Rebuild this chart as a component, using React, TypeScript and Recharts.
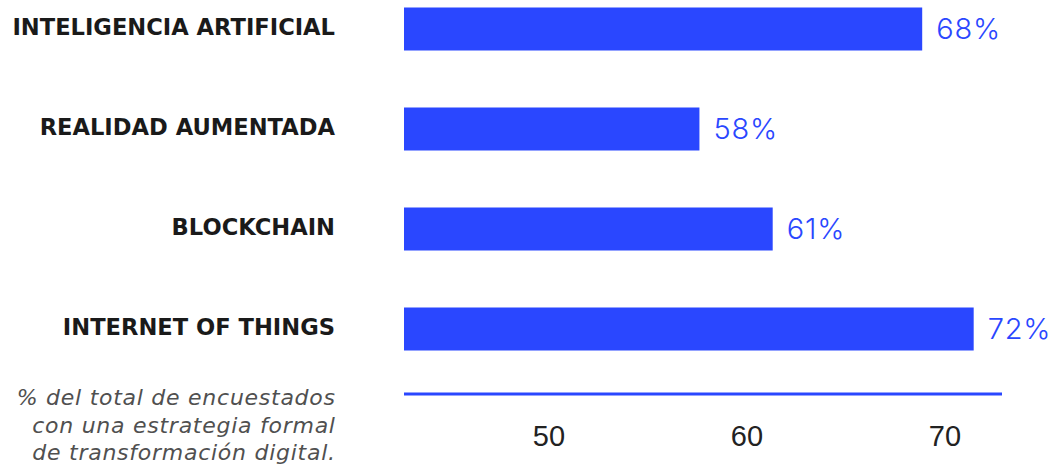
import React from "react";
import { BarChart, Bar, XAxis, YAxis, LabelList } from "recharts";

const categories = ["INTELIGENCIA ARTIFICIAL", "REALIDAD AUMENTADA", "BLOCKCHAIN", "INTERNET OF THINGS"];
const barValues = [68.85, 57.6, 61.3, 71.45];
const valueLabels = ["68%", "58%", "61%", "72%"];
const xTicks = [50, 60, 70];
const footnoteLines = ["% del total de encuestados", "con una estrategia formal", "de transformación digital."];

const BLUE = "#2A47FF";

const data = categories.map((c, i) => ({ name: c, value: barValues[i], label: valueLabels[i] }));

export default function App() {
  return (
    <div style={{ position: "absolute", left: 0, top: 0, width: 1052, height: 471, background: "#fff" }}>
      <BarChart
        width={1052}
        height={471}
        data={data}
        layout="vertical"
        margin={{ top: 0, right: 50, bottom: 0, left: 0 }}
      >
        <XAxis
          type="number"
          domain={[42.68, 72.88]}
          ticks={xTicks}
          interval={0}
          height={77}
          axisLine={{ stroke: BLUE, strokeWidth: 3 }}
          tickLine={false}
          tickSize={0}
          tickMargin={31}
          tick={{ fill: "#222", fontSize: 29, fontFamily: "Liberation Sans, Arial, sans-serif" }}
        />
        <YAxis
          type="category"
          dataKey="name"
          width={404}
          padding={{ top: -21.5, bottom: 15.5 }}
          axisLine={false}
          tickLine={false}
          tickSize={0}
          tickMargin={69}
          tick={{ fill: "#1a1a1a", fontSize: 22.6, fontWeight: 700, fontFamily: "DejaVu Sans, sans-serif", dy: -2 }}
        />
        <Bar dataKey="value" fill={BLUE} barSize={43} isAnimationActive={false}>
          <LabelList
            dataKey="label"
            position="right"
            offset={14}
            style={{ fill: BLUE, fontSize: 29, fontWeight: 300, letterSpacing: 0.8, fontFamily: "Inter, sans-serif" }}
          />
        </Bar>
      </BarChart>
      <div
        style={{
          position: "absolute",
          right: 1052 - 335,
          top: 384,
          textAlign: "right",
          fontFamily: "DejaVu Sans, sans-serif",
          fontStyle: "italic",
          fontWeight: 200,
          fontSize: 22,
          letterSpacing: 0.74,
          lineHeight: "27.5px",
          color: "#505050",
          whiteSpace: "nowrap",
        }}
      >
        {footnoteLines.map((l, i) => (
          <div key={i} style={{ marginRight: -0.74 }}>{l}</div>
        ))}
      </div>
    </div>
  );
}
